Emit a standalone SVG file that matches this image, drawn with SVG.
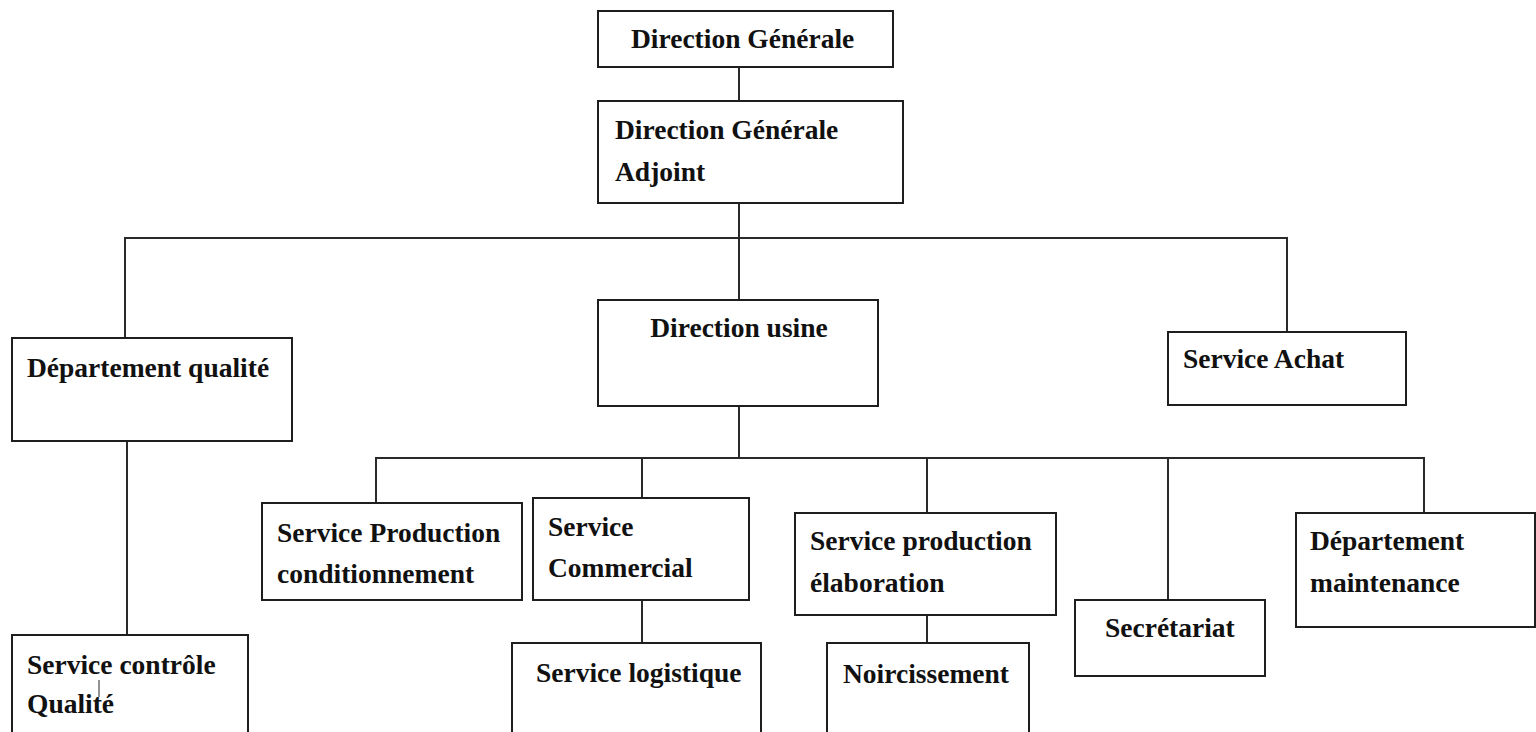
<svg xmlns="http://www.w3.org/2000/svg" width="1536" height="732" viewBox="0 0 1536 732">
<style>
.box{fill:#fff;stroke:#1e1e1e;stroke-width:2}
.ln{fill:none;stroke:#2a2a2a;stroke-width:2}
text{font-family:"Liberation Serif","Times New Roman",serif;font-weight:bold;font-size:27.5px;fill:#111}
</style>
<rect width="1536" height="732" fill="#fff"/>
<g id="connectors">
<line class="ln" x1="739" y1="67" x2="739" y2="101"/>
<line class="ln" x1="739" y1="203" x2="739" y2="300"/>
<line class="ln" x1="124" y1="238" x2="1287" y2="238"/>
<line class="ln" x1="125" y1="237" x2="125" y2="338"/>
<line class="ln" x1="1287" y1="237" x2="1287" y2="332"/>
<line class="ln" x1="127" y1="441" x2="127" y2="635"/>
<line class="ln" x1="739" y1="406" x2="739" y2="458"/>
<line class="ln" x1="375" y1="458" x2="1425" y2="458"/>
<line class="ln" x1="376" y1="457" x2="376" y2="503"/>
<line class="ln" x1="642" y1="457" x2="642" y2="498"/>
<line class="ln" x1="927" y1="457" x2="927" y2="513"/>
<line class="ln" x1="1168" y1="457" x2="1168" y2="600"/>
<line class="ln" x1="1424" y1="457" x2="1424" y2="513"/>
<line class="ln" x1="642" y1="600" x2="642" y2="643"/>
<line class="ln" x1="927" y1="615" x2="927" y2="643"/>
</g>
<g id="dg">
<rect class="box" x="598" y="11" width="295" height="56"/>
<text x="631" y="48">Direction Générale</text>
</g>
<g id="dga">
<rect class="box" x="598" y="101" width="305" height="102"/>
<text x="615" y="139">Direction Générale</text>
<text x="615" y="181">Adjoint</text>
</g>
<g id="dep-qualite">
<rect class="box" x="12" y="338" width="280" height="103"/>
<text x="27" y="377">Département qualité</text>
</g>
<g id="direction-usine">
<rect class="box" x="598" y="300" width="280" height="106"/>
<text x="739" y="337" text-anchor="middle">Direction usine</text>
</g>
<g id="service-achat">
<rect class="box" x="1168" y="332" width="238" height="73"/>
<text x="1183" y="368">Service Achat</text>
</g>
<g id="service-controle">
<rect class="box" x="12" y="635" width="236" height="110"/>
<text x="27" y="674">Service contrôle</text>
<text x="27" y="713">Qualité</text>
<line x1="99" y1="680" x2="99" y2="697" stroke="#222" stroke-width="1"/>
</g>
<g id="service-production-cond">
<rect class="box" x="262" y="503" width="260" height="97"/>
<text x="277" y="542">Service Production</text>
<text x="277" y="583">conditionnement</text>
</g>
<g id="service-commercial">
<rect class="box" x="533" y="498" width="216" height="102"/>
<text x="548" y="536">Service</text>
<text x="548" y="577">Commercial</text>
</g>
<g id="service-logistique">
<rect class="box" x="512" y="643" width="249" height="110"/>
<text x="536" y="682">Service logistique</text>
</g>
<g id="service-production-elab">
<rect class="box" x="795" y="513" width="261" height="102"/>
<text x="810" y="550">Service production</text>
<text x="810" y="592">élaboration</text>
</g>
<g id="noircissement">
<rect class="box" x="827" y="643" width="202" height="110"/>
<text x="843" y="683">Noircissement</text>
</g>
<g id="secretariat">
<rect class="box" x="1075" y="600" width="190" height="76"/>
<text x="1105" y="637">Secrétariat</text>
</g>
<g id="dep-maintenance">
<rect class="box" x="1296" y="513" width="239" height="114"/>
<text x="1310" y="550">Département</text>
<text x="1310" y="592">maintenance</text>
</g>
</svg>
